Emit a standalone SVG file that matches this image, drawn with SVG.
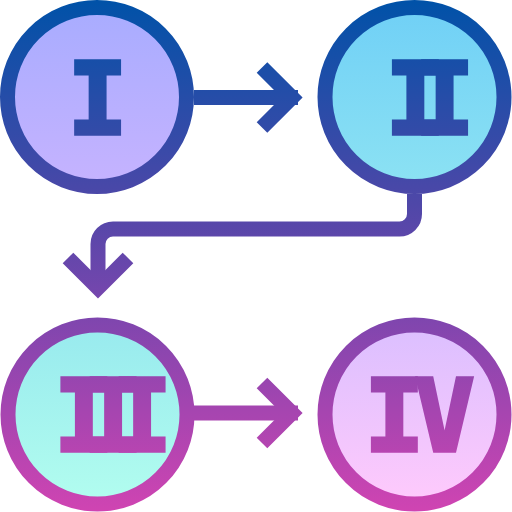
<svg xmlns="http://www.w3.org/2000/svg" width="512" height="512" viewBox="0 0 512 512">
<defs>
<linearGradient id="ink" gradientUnits="userSpaceOnUse" x1="0" y1="0" x2="0" y2="512">
<stop offset="0" stop-color="#0052a8"/>
<stop offset="0.4" stop-color="#4f47a8"/>
<stop offset="0.6" stop-color="#7a46ae"/>
<stop offset="1" stop-color="#d044b2"/>
</linearGradient>
<linearGradient id="f1" x1="0" y1="0" x2="0" y2="1"><stop offset="0" stop-color="#a8acff"/><stop offset="1" stop-color="#c6b3ff"/></linearGradient>
<linearGradient id="f2" x1="0" y1="0" x2="0" y2="1"><stop offset="0" stop-color="#70d0f6"/><stop offset="1" stop-color="#8ce2f3"/></linearGradient>
<linearGradient id="f3" x1="0" y1="0" x2="0" y2="1"><stop offset="0" stop-color="#98eaee"/><stop offset="1" stop-color="#b2fdef"/></linearGradient>
<linearGradient id="f4" x1="0" y1="0" x2="0" y2="1"><stop offset="0" stop-color="#dbbfff"/><stop offset="1" stop-color="#ffcafc"/></linearGradient>
</defs>
<style>
.ring{stroke:url(#ink);stroke-width:15}
.num{fill:url(#ink);stroke:url(#ink);stroke-width:3.5;stroke-linejoin:miter;font-family:"DejaVu Sans Mono",monospace;font-weight:bold;font-size:100px;text-anchor:middle}
.line{fill:none;stroke:url(#ink);stroke-width:15;stroke-linecap:butt;stroke-linejoin:miter}
</style>
<g id="connectors">
<path class="line" d="M194 97.5H298"/>
<path class="line" d="M262 67.5L292 97.5L262 127.5"/>
<path class="line" d="M414.5 194V214a15 15 0 0 1 -15 15H113a15 15 0 0 0 -15 15V284"/>
<path class="line" d="M68 258L98 288L128 258"/>
<path class="line" d="M194 413H298"/>
<path class="line" d="M262 383L292 413L262 443"/>
</g>
<g id="node-1">
<circle class="ring" cx="97" cy="97" r="89.5" fill="url(#f1)"/>
<text class="num" x="97.5" y="133.5">I</text>
</g>
<g id="node-2">
<circle class="ring" cx="414.5" cy="97" r="89.5" fill="url(#f2)"/>
<text class="num" x="414.5" y="133.5" letter-spacing="-31">II</text>
</g>
<g id="node-3">
<circle class="ring" cx="97.5" cy="414.5" r="89.5" fill="url(#f3)"/>
<text class="num" x="97.5" y="450.5" letter-spacing="-31">III</text>
</g>
<g id="node-4">
<circle class="ring" cx="414.5" cy="414.5" r="89.5" fill="url(#f4)"/>
<text class="num" x="414.5" y="450.5" letter-spacing="-10">IV</text>
</g>
</svg>
